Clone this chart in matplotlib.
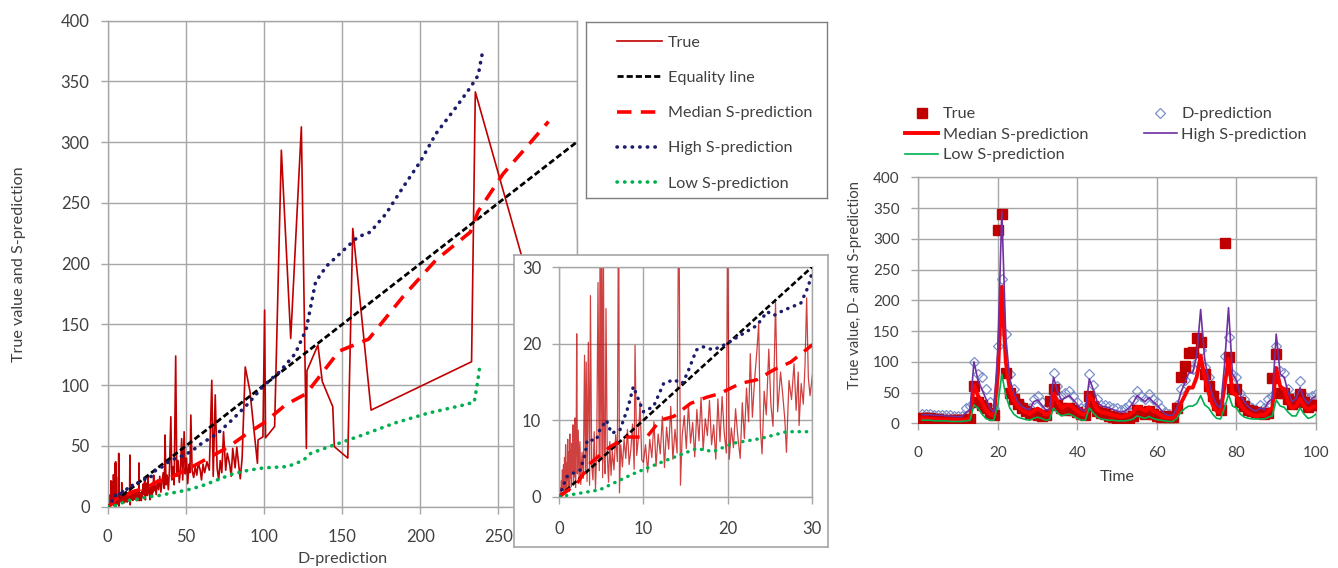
import matplotlib
matplotlib.use("Agg")
import matplotlib.pyplot as plt
from matplotlib.lines import Line2D

plt.rcParams['font.family'] = ['Lato', 'DejaVu Sans']

# ---------------- left panel: True value vs D-prediction (sorted by D-prediction)
d_pred = [
    0.05, 0.12, 0.18, 0.25, 0.30, 0.37, 0.43, 0.50, 0.56, 0.62, 0.68, 0.75, 0.81, 0.87, 0.93, 1.00, 1.06, 1.12, 1.18, 1.25,
    1.31, 1.37, 1.43, 1.50, 1.56, 1.62, 1.68, 1.75, 1.81, 1.87, 1.93, 2.00, 2.07, 2.15, 2.25, 2.35, 2.45, 2.55, 2.70, 2.85,
    3.00, 3.10, 3.20, 3.30, 3.45, 3.60, 3.70, 3.85, 4.00, 4.15, 4.30, 4.45, 4.60, 4.75, 4.85, 4.95, 5.05, 5.15, 5.25, 5.35,
    5.45, 5.55, 5.70, 5.85, 6.00, 6.15, 6.30, 6.50, 6.70, 6.90, 7.05, 7.15, 7.30, 7.50, 7.70, 7.90, 8.10, 8.30, 8.50, 8.70,
    8.90, 9.00, 9.20, 9.40, 9.60, 9.80,
    10.0, 10.25, 10.5, 10.75, 11.0, 11.25, 11.5, 11.75, 12.0, 12.25, 12.5, 12.75, 13.0, 13.25, 13.5, 13.75, 14.0, 14.2, 14.4, 14.6,
    14.85, 15.1, 15.35, 15.6, 15.85, 16.1, 16.35, 16.6, 16.85, 17.1, 17.35, 17.6, 17.85, 18.1, 18.35, 18.6, 18.85, 19.1, 19.35, 19.6,
    19.85, 20.0, 20.2, 20.45, 20.7, 20.95, 21.2, 21.5, 21.75, 22.0, 22.25, 22.5, 22.7, 22.95, 23.2, 23.5, 23.7, 23.9, 24.1, 24.35,
    24.6, 24.9, 25.15, 25.4, 25.7, 25.95, 26.3, 26.55, 26.8, 27.0, 27.3, 27.6, 27.9, 28.15, 28.4, 28.5, 28.75, 29.0, 29.2, 29.4,
    29.6, 29.8,
    30.3, 31.0, 31.8, 32.5, 33.3, 34.0, 34.8, 35.5, 36.2, 36.7, 37.3, 38.0, 38.8, 39.5, 40.4, 41.0, 41.8, 42.5, 43.5, 44.2,
    45.0, 45.8, 46.5, 47.3, 48.0, 48.9, 49.6, 50.4, 51.2, 52.0, 52.6, 53.2, 54.0, 55.0, 56.0, 57.0, 58.0, 59.2, 60.0, 61.0,
    62.0, 63.5, 65.0, 66.6, 67.5, 68.8, 70.0, 71.0, 72.0, 73.0, 74.1, 75.5, 76.5, 78.0, 79.0, 80.0, 81.5, 82.6, 83.5, 84.8,
    86.0, 88.0, 91.0, 95.8, 96.2, 99.3, 100.4, 101.0, 106.8, 111.1, 117.1, 123.9, 127.1, 127.5, 134.5, 137.3, 144.0, 145.0, 153.6, 156.8,
    168.5, 232.8, 235.2, 275.0]
true_val = [
    0.3, 1.2, 0.4, 2.1, 0.8, 3.5, 1.0, 4.2, 0.6, 5.1, 1.5, 6.8, 0.9, 4.4, 2.2, 7.5, 1.1, 5.9, 0.7, 8.2,
    2.4, 6.1, 1.3, 7.0, 3.2, 9.4, 1.8, 5.5, 2.6, 10.3, 1.2, 6.4, 21.3, 3.0, 8.7, 2.1, 7.2, 1.6, 5.8, 2.4,
    18.5, 3.1, 17.6, 2.0, 20.2, 1.5, 26.3, 4.1, 2.2, 8.5, 1.0, 6.3, 28.0, 3.4, 35.6, 5.2, 37.0, 2.5, 31.0, 4.8,
    3.0, 24.6, 5.5, 1.9, 7.2, 2.8, 6.0, 3.5, 8.1, 4.6, 43.9, 0.5, 6.8, 3.9, 7.5, 5.0, 8.8, 4.2, 6.1, 9.5,
    3.6, 19.8, 5.4, 7.7, 12.4, 4.8,
    4.5, 6.8, 3.2, 7.5, 5.1, 9.8, 4.0, 8.2, 5.6, 10.5, 3.8, 9.1, 6.2, 11.8, 4.9, 8.8, 5.7, 42.5, 1.5, 7.9,
    10.6, 6.3, 12.1, 7.0, 9.7, 5.2, 11.4, 7.3, 13.0, 6.1, 10.2, 8.0, 12.6, 6.8, 9.4, 4.9, 12.8, 7.2, 13.1, 8.4,
    5.7, 36.0, 4.9, 9.0, 6.4, 11.5, 8.1, 5.0, 12.3, 7.6, 14.2, 9.8, 18.7, 10.4, 15.1, 19.3, 22.6, 8.9, 5.6, 13.8,
    10.7, 19.3, 12.0, 9.2, 25.4, 11.1, 16.3, 13.4, 10.2, 5.8, 15.2, 12.7, 17.4, 11.3, 16.3, 9.3, 14.8, 12.1, 17.0, 26.0,
    15.6, 13.2,
    18, 10, 22, 14, 25, 12, 20, 28, 15, 59, 18, 26, 14, 30, 74, 22, 33, 18, 124, 25,
    38, 20, 30, 56, 22, 61.7, 27, 40, 19, 35, 28, 75.4, 30, 24, 33, 26, 36, 30, 22, 35,
    28, 37, 30, 104, 25, 92, 32, 22, 38, 28, 61.7, 30, 44, 35, 25, 48, 32, 49, 38, 23,
    40, 115, 95, 35.7, 55, 57.5, 161.8, 56.7, 66, 293.4, 138.5, 312.6, 48, 112, 133, 103, 82.3, 49.4, 40, 229,
    79.5, 119.3, 341.4, 160]

equality = [0, 300]

high_x = [0, 0.87, 1.5, 2.5, 3.1, 3.3, 4.4, 4.8, 5.6, 6.2, 7.2, 8.2, 8.8, 10, 11.2, 12.4, 13.6, 14.6, 15.2, 16.3,
          17.1, 18.3, 19.9, 21.5, 23.5, 24.7, 25.5, 26.7, 28.7, 29.6, 30, 35, 40, 50, 55, 60, 70, 80, 90, 100,
          110, 120, 127, 133, 140, 150, 160, 168, 178, 189, 200, 210, 223, 232, 237, 239.5]
high_y = [0, 2.6, 3, 3.5, 5.7, 7.4, 7.4, 8.7, 10, 8.3, 8.7, 11.8, 14.4, 11.1, 11.8, 14.8, 15.3, 14.8, 16.1, 19.2,
          19.6, 19.2, 20, 21.1, 22.4, 24.2, 23.7, 24.4, 25.3, 27.5, 29.2, 33, 38, 43, 47, 52, 60, 72, 85, 100,
          111, 126, 146, 185, 198, 210, 222, 226, 241, 263, 284, 307, 329, 345, 355, 372]
med_x = [0, 2.1, 3.7, 6, 8, 9.6, 10.4, 12, 13.6, 15.6, 17.5, 19.1, 21.5, 23.5, 25.5, 27.5, 30,
         40, 50, 60, 77, 89, 100, 114, 127, 148, 167, 189, 210, 232, 237, 253, 270, 282]
med_y = [0, 1.7, 4.4, 6.5, 7.8, 7.8, 7.8, 10, 10.5, 12.2, 13, 13.5, 14.8, 15.3, 16.6, 17.6, 19.8,
         24, 30, 37, 49, 60, 69, 84, 93, 128, 138, 173, 203, 226, 243, 274, 299, 317]
low_x = [0, 4.8, 8.8, 12.8, 16.3, 18.3, 20.7, 23.9, 27, 30, 40, 50, 60, 70, 80, 90, 100, 115, 125, 130,
         142, 163, 184, 205, 227, 234.5, 236.6, 238]
low_y = [0, 0.9, 3, 4.8, 6.3, 5.9, 7, 7.6, 8.5, 8.5, 11, 13.5, 17, 22, 27, 30, 32, 33, 38, 44,
         49.5, 59, 69, 77, 83.5, 86, 102, 115]

left_labels = ['True', 'Equality line', 'Median S-prediction', 'High S-prediction', 'Low S-prediction']

# ---------------- right panel: time series
time = list(range(1, 101))
true_ts = [9, 8, 8, 7, 7, 6, 6, 6, 5, 5, 5, 6, 7, 60, 35, 30, 25, 17, 14, 314,
           341, 81, 50, 40, 32, 25, 20, 17, 15, 14, 12, 14, 36, 56, 30, 25, 22, 25, 22, 18,
           15, 14, 45, 28, 20, 17, 15, 12, 10, 9, 8, 8, 9, 12, 22, 18, 15, 20, 15, 12,
           10, 12, 10, 10, 25, 75, 93, 115, 116, 139, 133, 80, 60, 45, 30, 22, 293, 108, 55, 55,
           35, 28, 22, 20, 18, 16, 15, 16, 73, 112, 50, 50, 40, 32, 35, 47, 35, 27, 30, 30]
dpred_ts = [15, 15, 15, 14, 14, 14, 13, 13, 12, 12, 12, 25, 28, 100, 80, 75, 55, 35, 25, 125,
            235, 145, 80, 55, 35, 30, 25, 25, 40, 45, 35, 25, 30, 82, 60, 45, 50, 52, 45, 35,
            25, 25, 80, 62, 40, 30, 30, 28, 25, 25, 22, 25, 30, 38, 52, 45, 40, 48, 40, 35,
            25, 18, 15, 15, 30, 55, 70, 90, 88, 100, 120, 92, 75, 50, 35, 30, 110, 140, 80, 75,
            50, 40, 30, 25, 22, 30, 25, 40, 45, 125, 85, 82, 55, 40, 45, 68, 45, 40, 45, 48]
med_ts = [8, 8, 7, 7, 7, 6, 6, 6, 6, 6, 6, 6, 8, 62, 45, 35, 22, 15, 12, 80,
          222, 100, 55, 38, 28, 22, 18, 15, 20, 24, 20, 14, 16, 48, 35, 25, 28, 30, 25, 20,
          15, 14, 45, 35, 22, 18, 17, 15, 13, 12, 10, 12, 14, 18, 27, 24, 20, 26, 20, 17,
          13, 10, 9, 9, 15, 32, 45, 58, 58, 75, 110, 75, 50, 30, 20, 17, 60, 105, 50, 45,
          30, 22, 17, 14, 12, 14, 13, 20, 25, 90, 60, 55, 35, 25, 28, 40, 28, 22, 26, 28]
high_ts = [14, 14, 14, 13, 13, 13, 12, 12, 11, 11, 11, 18, 22, 100, 70, 55, 40, 25, 18, 120,
           345, 140, 72, 50, 35, 28, 24, 22, 35, 38, 30, 22, 22, 75, 52, 38, 42, 45, 38, 30,
           22, 20, 72, 55, 35, 28, 27, 25, 22, 20, 18, 20, 25, 33, 45, 40, 35, 42, 35, 30,
           22, 15, 13, 13, 25, 50, 65, 82, 82, 110, 185, 105, 70, 45, 30, 25, 95, 188, 80, 70,
           45, 35, 27, 22, 20, 25, 22, 35, 40, 145, 80, 75, 50, 35, 40, 58, 40, 32, 40, 45]
low_ts = [5, 5, 5, 4, 4, 4, 4, 3, 3, 3, 3, 4, 5, 30, 25, 15, 8, 5, 5, 30,
          80, 45, 25, 15, 10, 8, 6, 5, 8, 10, 8, 5, 6, 25, 17, 12, 14, 15, 12, 8,
          5, 5, 25, 17, 10, 7, 6, 5, 5, 4, 4, 4, 5, 7, 12, 10, 8, 11, 8, 6,
          5, 4, 3, 3, 8, 18, 24, 28, 28, 32, 45, 30, 25, 15, 8, 7, 25, 47, 28, 25,
          15, 10, 8, 7, 7, 7, 7, 10, 12, 38, 28, 26, 18, 12, 12, 25, 15, 8, 10, 15]

right_labels = ['True', 'Median S-prediction', 'Low S-prediction', 'D-prediction', 'High S-prediction']

# ---------------- styling
W, H = 1338, 568
GRID = '#a6a6a6'
TXT = '#404040'
C_TRUE = '#c00000'
C_MED = '#ff0000'
C_HIGH = '#1c1c6b'
C_LOW = '#00b050'


def fig_rect(x0, y0, x1, y1):
    return [x0 / W, (H - y1) / H, (x1 - x0) / W, (y1 - y0) / H]


def style_axes(ax, xpad, ypad, fs):
    ax.grid(True, color=GRID, lw=1)
    ax.set_axisbelow(True)
    for s in ax.spines.values():
        s.set_color(GRID)
        s.set_linewidth(1)
    ax.tick_params(direction='out', length=5, color=GRID, labelcolor=TXT, labelsize=fs, width=1)
    ax.tick_params(axis='x', pad=xpad)
    ax.tick_params(axis='y', pad=ypad)


fig = plt.figure(figsize=(W / 100, H / 100), dpi=100)

# main left axes
ax = fig.add_axes(fig_rect(107.7, 20.7, 576.6, 506.7))
style_axes(ax, 11.0, 8.0, 12)
ax.set_xlim(0, 300)
ax.set_ylim(0, 400)
ax.set_xticks(range(0, 301, 50))
ax.set_yticks(range(0, 401, 50))


def draw_left(a, scale=1.0, inset=False):
    a.plot(d_pred, true_val, color=C_TRUE, lw=(0.9 if inset else 1.2),
           alpha=(0.75 if inset else 1.0), zorder=2)
    a.plot(equality, equality, color='black', lw=2 * scale, dashes=(2.2, 1.1), zorder=3)
    a.plot(med_x, med_y, color=C_MED, lw=2.6 * scale, dashes=(4, 2.6), zorder=3)
    a.plot(high_x, high_y, color=C_HIGH, lw=2.6 * scale, dashes=(0.1, 2.0),
           dash_capstyle='round', zorder=3)
    a.plot(low_x, low_y, color=C_LOW, lw=2.6 * scale, dashes=(0.1, 2.0),
           dash_capstyle='round', zorder=3)


draw_left(ax)
ax.set_ylabel('True value and S-prediction', fontsize=11.6, color=TXT)
ax.yaxis.label.set_va('center')
ax.yaxis.set_label_coords((19 - 107.7) / 468.9, 0.5)
ax.set_xlabel('D-prediction', fontsize=11.6, color=TXT)
ax.xaxis.label.set_va('center')
ax.xaxis.set_label_coords(0.5, -(559 - 506.7) / 486)

# legend box for left panel
lg = fig.add_axes(fig_rect(586, 21.7, 827, 198))
lg.set_xticks([])
lg.set_yticks([])
for s in lg.spines.values():
    s.set_color('#7f7f7f')
    s.set_linewidth(1)
left_handles = [
    Line2D([], [], color=C_TRUE, lw=1.2),
    Line2D([], [], color='black', lw=2, dashes=(2.2, 1.1)),
    Line2D([], [], color=C_MED, lw=2.6, dashes=(4, 2.6)),
    Line2D([], [], color=C_HIGH, lw=2.6, dashes=(0.1, 2.0), dash_capstyle='round'),
    Line2D([], [], color=C_LOW, lw=2.6, dashes=(0.1, 2.0), dash_capstyle='round'),
]
leg = lg.legend(left_handles, left_labels, loc='upper left', bbox_to_anchor=(0.129, 0.922),
                frameon=False, borderpad=0, borderaxespad=0, fontsize=11.6,
                handlelength=2.8, handletextpad=0.33, labelspacing=1.3)
for t in leg.get_texts():
    t.set_color(TXT)

# inset frame and inset axes
fr = fig.add_axes(fig_rect(513.5, 255, 828, 547), zorder=5)
fr.set_xticks([])
fr.set_yticks([])
fr.set_facecolor('white')
for s in fr.spines.values():
    s.set_color('#a6a6a6')
    s.set_linewidth(1.2)

axi = fig.add_axes(fig_rect(559.3, 267.3, 811.7, 496.7), zorder=6)
style_axes(axi, 12.5, 8.0, 12)
axi.set_xlim(0, 30)
axi.set_ylim(0, 30)
axi.set_xticks([0, 10, 20, 30])
axi.set_yticks([0, 10, 20, 30])
draw_left(axi, scale=0.95, inset=True)

# right panel
ax2 = fig.add_axes(fig_rect(918.3, 177.3, 1316, 423.3))
style_axes(ax2, 11.3, 8.4, 11)
ax2.set_xlim(0, 100)
ax2.set_ylim(0, 400)
ax2.set_xticks(range(0, 101, 20))
ax2.set_yticks(range(0, 401, 50))
h_true, = ax2.plot(time, true_ts, ls='none', marker='s', ms=6.5, color=C_TRUE, zorder=3)
h_d, = ax2.plot(time, dpred_ts, ls='none', marker='D', ms=4.6, mfc='none', mec='#7b8fc9',
                mew=0.9, zorder=2)
h_med, = ax2.plot(time, med_ts, color=C_MED, lw=2.8, zorder=4)
h_high, = ax2.plot(time, high_ts, color='#7030a0', lw=1.2, zorder=5)
h_low, = ax2.plot(time, low_ts, color=C_LOW, lw=1.2, zorder=4)
ax2.set_xlabel('Time', fontsize=11.5, color=TXT)
ax2.xaxis.label.set_va('center')
ax2.xaxis.set_label_coords(0.5, -(476.7 - 423.3) / 246)
ax2.set_ylabel('True value, D- amd S-prediction', fontsize=10.7, color=TXT)
ax2.yaxis.label.set_va('center')
ax2.yaxis.set_label_coords((855 - 918.3) / 397.7, (423.3 - 285) / 246)

leg2 = fig.legend([h_true, h_med, h_low, h_d, h_high], right_labels, ncol=2,
                  loc='upper left', bbox_to_anchor=(905 / W, 1 - 107 / H),
                  frameon=False, borderpad=0, borderaxespad=0, fontsize=11.7,
                  handlelength=2.05, handletextpad=0.28, columnspacing=3.4,
                  labelspacing=0.38)
for t in leg2.get_texts():
    t.set_color(TXT)

fig.savefig('out.png', dpi=100)
